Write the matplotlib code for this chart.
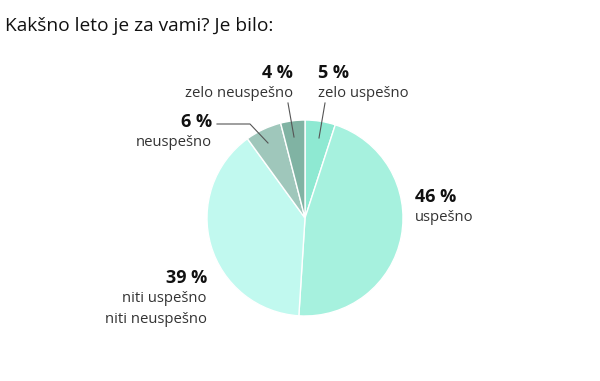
import matplotlib.pyplot as plt

plt.rcParams['font.family'] = ['Open Sans', 'DejaVu Sans']

# data
labels = ['zelo uspešno', 'uspešno', 'niti uspešno\nniti neuspešno', 'neuspešno', 'zelo neuspešno']
values = [5, 46, 39, 6, 4]
colors = ['#8ee9d2', '#a6f1de', '#c1f9ef', '#9fc7bb', '#80b3a3']

W, H = 600, 381
fig = plt.figure(figsize=(6, 3.81), dpi=100)
ax = fig.add_axes([0, 0, 1, 1])

cx, cy, r = 305, H - 218, 98
ax.pie(values, colors=colors, startangle=90, counterclock=False,
       center=(cx, cy), radius=r, frame=True,
       wedgeprops=dict(edgecolor='white', linewidth=1))
ax.set_xlim(0, W)
ax.set_ylim(0, H)
ax.set_aspect('equal')
ax.axis('off')

fig.text(5 / W, 1 - 26 / H, 'Kakšno leto je za vami? Je bilo:', fontsize=13.8,
         va='center', ha='left', color='#111111')

def y(p):
    return H - p

# (x, y of percent, ha, index)
places = [(318, 73, 'left', 0), (415, 197, 'left', 1), (207, 278, 'right', 2),
          (212, 122, 'right', 3), (293, 73, 'right', 4)]
for px, py, ha, i in places:
    ax.text(px, y(py), f'{values[i]} %', fontsize=13, fontweight='bold',
            ha=ha, va='center', color='#111111')
    ax.text(px, y(py + 13), labels[i], fontsize=10.7, ha=ha, va='top',
            color='#333333', linespacing=1.55)

lc = '#555555'
ax.plot([325, 319], [y(103), y(138)], color=lc, lw=0.8)
ax.plot([288, 294], [y(103), y(137)], color=lc, lw=0.8)
ax.plot([217, 250, 268], [y(124), y(124), y(143)], color=lc, lw=0.8)

fig.savefig('out.png', dpi=100)
